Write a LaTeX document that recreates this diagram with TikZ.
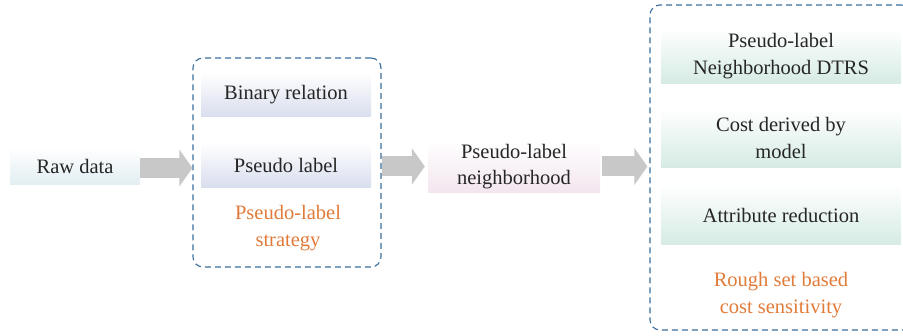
\documentclass[tikz,border=0pt]{standalone}
\usepackage{fontspec}
\setmainfont{Liberation Serif}
\usepackage{xcolor}
\usetikzlibrary{arrows.meta}

\definecolor{dashblue}{HTML}{3B6E9E}
\definecolor{labelorange}{HTML}{E07B39}
\definecolor{rawblue}{HTML}{E2EEF2}
\definecolor{lavender}{HTML}{D9DEEE}
\definecolor{pinkish}{HTML}{F3E5EE}
\definecolor{mint}{HTML}{D5EBE3}
\definecolor{arrowgray}{HTML}{C8C8C8}

\tikzset{
  stepbox/.style={draw=none,align=center,text=black!85,font=\fontsize{20.5}{26.5}\selectfont},
  rawbox/.style={stepbox,top color=white,bottom color=rawblue,minimum width=130pt,minimum height=38pt},
  relbox/.style={stepbox,top color=white,bottom color=lavender,minimum width=170pt,minimum height=45pt},
  nbbox/.style={stepbox,top color=white,bottom color=pinkish,minimum width=172pt,minimum height=53pt},
  greenbox/.style={stepbox,top color=white,bottom color=mint,minimum width=240pt},
  orangetxt/.style={align=center,text=labelorange,font=\fontsize{20.5}{26.5}\selectfont},
  groupbox/.style={draw=dashblue,line width=1.1pt,dash pattern=on 6pt off 4pt,rounded corners=10pt},
  blockarrow/.style={draw=arrowgray,line width=20pt,-{Triangle[length=13pt,width=36pt]}}
}

\begin{document}
\begin{tikzpicture}[x=1pt,y=-1pt]
	\useasboundingbox (0,0) rectangle (903,336);
	\clip (0,0) rectangle (903,336);
	% groups
	\node[groupbox,minimum width=188pt,minimum height=209pt] (strat) at (287,162.5) {};
	\node[groupbox,minimum width=262pt,minimum height=325pt] (rough) at (781,167.5) {};
	% boxes
	\node[rawbox] (raw) at (75,166) {Raw data};
	\node[relbox] (binrel) at (286,94.5) {Binary relation};
	\node[relbox] (pseudo) at (286,165) {Pseudo label};
	\node[orangetxt] (strattext) at (288,228) {Pseudo-label\\strategy};
	\node[nbbox] (nbhd) at (514,166.5) {Pseudo-label\\neighborhood};
	\node[greenbox,minimum height=56pt] (dtrs) at (781,56) {Pseudo-label\\Neighborhood DTRS};
	\node[greenbox,minimum height=60pt] (cost) at (781,138) {Cost derived by\\model};
	\node[greenbox,minimum height=60pt] (reduct) at (781,215) {Attribute reduction};
	\node[orangetxt] (roughtext) at (781,295) {Rough set based\\cost sensitivity};
	% arrows
	\path[blockarrow] ([yshift=-2pt]raw.east) -- ([yshift=-2pt]raw.east -| strat.west);
	\path[blockarrow] (strat.east |- nbhd) -- ([xshift=-3pt]nbhd.west);
	\path[blockarrow] ([xshift=2pt]nbhd.east) -- ([xshift=-2pt]nbhd.east -| rough.west);
\end{tikzpicture}
\end{document}
